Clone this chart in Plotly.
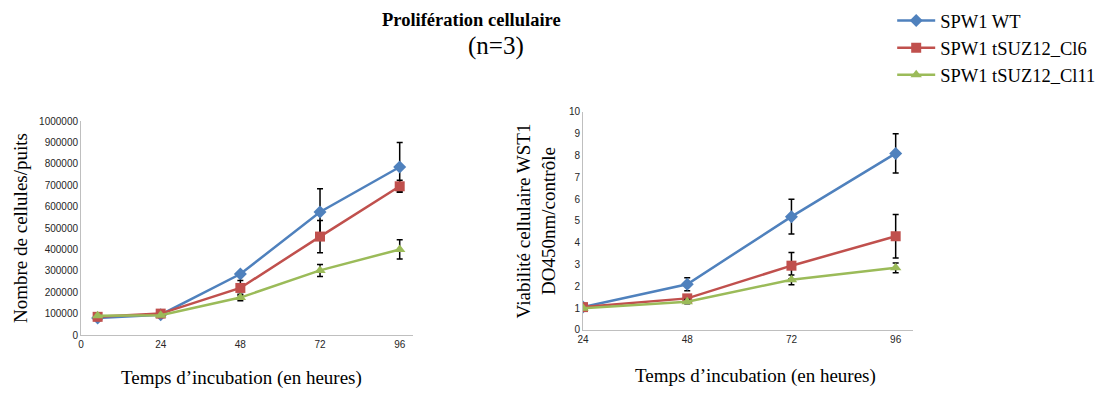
import plotly.graph_objects as go

# hours of incubation
hours_count = [5, 24, 48, 72, 96]
hours_wst = [24, 48, 72, 96]

series_names = ['SPW1 WT', 'SPW1 tSUZ12_Cl6', 'SPW1 tSUZ12_Cl11']
colors = ['#4F81BD', '#C0504D', '#9BBB59']
symbols = ['diamond', 'square', 'triangle-up']

# cell counts per well
wt_count = [80000, 95000, 285000, 575000, 785000]
cl6_count = [85000, 100000, 220000, 460000, 695000]
cl11_count = [90000, 92000, 175000, 302000, 400000]
wt_count_err = [0, 0, 0, 108000, 115000]
cl6_count_err = [0, 0, 35000, 75000, 28000]
cl11_count_err = [0, 0, 15000, 28000, 45000]

# WST1 viability (DO450nm / control)
wt_wst = [1.05, 2.1, 5.2, 8.1]
cl6_wst = [1.05, 1.45, 2.95, 4.3]
cl11_wst = [1.0, 1.3, 2.3, 2.85]
wt_wst_err = [0, 0.3, 0.8, 0.9]
cl6_wst_err = [0, 0.1, 0.6, 1.0]
cl11_wst_err = [0, 0.1, 0.22, 0.22]

count_data = [(wt_count, wt_count_err), (cl6_count, cl6_count_err), (cl11_count, cl11_count_err)]
wst_data = [(wt_wst, wt_wst_err), (cl6_wst, cl6_wst_err), (cl11_wst, cl11_wst_err)]

fig = go.Figure()

for i, (vals, err) in enumerate(count_data):
    fig.add_trace(go.Scatter(
        x=hours_count, y=vals, name=series_names[i], mode='lines+markers',
        line=dict(color=colors[i], width=2.5),
        marker=dict(symbol=symbols[i], size=10, color=colors[i]),
        error_y=dict(type='data', array=err, color='black', thickness=1.5, width=3),
        xaxis='x', yaxis='y', legendgroup=series_names[i]))

for i, (vals, err) in enumerate(wst_data):
    fig.add_trace(go.Scatter(
        x=hours_wst, y=vals, name=series_names[i], mode='lines+markers',
        line=dict(color=colors[i], width=2.5),
        marker=dict(symbol=symbols[i], size=10, color=colors[i]),
        error_y=dict(type='data', array=err, color='black', thickness=1.5, width=3),
        xaxis='x2', yaxis='y2', legendgroup=series_names[i], showlegend=False))

tickfont = dict(family='Liberation Sans', size=10, color='#262626')
titlefont = dict(family='Liberation Serif', size=19, color='black')

fig.update_layout(
    width=1115, height=396,
    margin=dict(l=0, r=0, t=0, b=0, autoexpand=False),
    paper_bgcolor='white', plot_bgcolor='white',
    showlegend=True,
    legend=dict(x=0.793, y=1.015, xanchor='left', yanchor='top',
                font=dict(family='Liberation Serif', size=18.5, color='black'),
                itemwidth=38, tracegroupgap=0, bgcolor='rgba(0,0,0,0)'),
    xaxis=dict(domain=[0.0655, 0.3632], range=[0, 100], tickvals=[0, 24, 48, 72, 96],
               showgrid=False, zeroline=False, showline=True, linecolor='#bfbfbf',
               tickfont=tickfont, ticks='', automargin=False),
    yaxis=dict(domain=[0.1742, 0.7146], range=[0, 1000000], dtick=100000, tickformat='d',
               showgrid=False, zeroline=False, showline=True, linecolor='#bfbfbf',
               tickfont=tickfont, ticks='', automargin=False,
               title=dict(text='Nombre de cellules/puits', font=titlefont, standoff=6)),
    xaxis2=dict(domain=[0.5157, 0.8117], range=[24, 100], tickvals=[24, 48, 72, 96],
                anchor='y2', showgrid=False, zeroline=False, showline=True, linecolor='#bfbfbf',
                tickfont=tickfont, ticks='', automargin=False),
    yaxis2=dict(domain=[0.1869, 0.7374], range=[0, 10], dtick=1,
                anchor='x2', showgrid=False, zeroline=False, showline=True, linecolor='#bfbfbf',
                tickfont=tickfont, ticks='', automargin=False,
                title=dict(text='Viabilité cellulaire WST1<br>DO450nm/contrôle', font=titlefont, standoff=8)),
    annotations=[
        dict(text='<b>Prolifération cellulaire</b>', x=0.416, y=0.970, xref='paper', yref='paper',
             xanchor='center', yanchor='middle', showarrow=False,
             font=dict(family='Liberation Serif', size=18.5, color='black')),
        dict(text='(n=3)', x=0.438, y=0.904, xref='paper', yref='paper',
             xanchor='center', yanchor='middle', showarrow=False,
             font=dict(family='Liberation Serif', size=25, color='black')),
        dict(text='Temps d’incubation (en heures)', x=0.209, y=0.0657, xref='paper', yref='paper',
             xanchor='center', yanchor='middle', showarrow=False, font=titlefont),
        dict(text='Temps d’incubation (en heures)', x=0.670, y=0.0707, xref='paper', yref='paper',
             xanchor='center', yanchor='middle', showarrow=False, font=titlefont),
    ],
)

fig.write_html("out.html")
